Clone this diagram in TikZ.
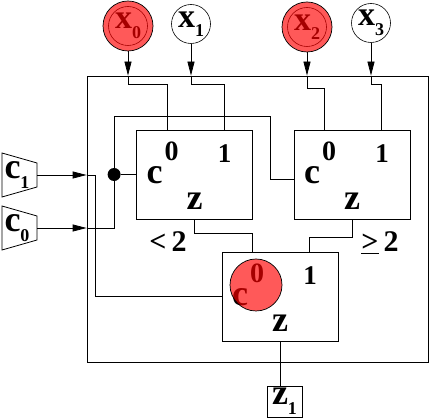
\documentclass[tikz,border=0pt]{standalone}
\usepackage{fontspec}
\setmainfont{Liberation Serif}
\usetikzlibrary{arrows.meta,calc,positioning}

% subscript that sits low, as in the drawing
\newcommand{\lowtag}[1]{\raisebox{-0.28em}{\fontsize{18}{18}\selectfont #1}}

\tikzset{
  wire/.style={line width=0.8pt},
  feed/.style={wire, -{Triangle[length=14pt,width=7pt]}},
  gate/.style={draw, line width=0.8pt, minimum width=116pt, minimum height=89pt, inner sep=0pt},
  var/.style={circle, draw, line width=0.6pt, minimum size=39pt, inner sep=0pt,
    font=\bfseries\fontsize{34}{34}\selectfont},
  hilite/.style={circle, fill=red, fill opacity=0.65, draw=black, line width=0.7pt, inner sep=0pt},
  big/.style={font=\bfseries\fontsize{36}{36}\selectfont, inner sep=0pt},
  mid/.style={font=\bfseries\fontsize{28}{28}\selectfont, inner sep=0pt},
  small/.style={font=\bfseries\fontsize{27}{27}\selectfont, inner sep=0pt},
  cmp/.style={font=\bfseries\fontsize{30}{30}\selectfont, inner sep=0pt},
}

\begin{document}
\begin{tikzpicture}[x=1pt, y=-1pt]
    \useasboundingbox (0,0) rectangle (429,419);

    % Frame and the three selector boxes
    \node[draw, line width=0.8pt, minimum width=341pt, minimum height=286pt] (frame) at (257.5,219) {};
    \node[gate] (b1) at (194.5,174.5) {};
    \node[gate] (b2) at (352,174.5) {};
    \node[gate] (b3) at (280,296.5) {};

    % Box labels and input points
    \foreach \g in {b1,b2,b3} {
        \node[big] (\g-c) at ($(\g)+(-40,1)$) {c};
        \node[mid] (\g-sup) at ($(\g)+(-23,-23)$) {0};
        \node[small] (\g-one) at ($(\g)+(30,-21)$) {1};
        \node[big] (\g-z) at ($(\g)+(0,27)$) {z};
        \coordinate (\g-0) at ($(\g.north west)+(31,0)$);
        \coordinate (\g-1) at ($(\g.north west)+(88,0)$);
    }

    % Inputs on top
    \node[var] (x0) at (128,26) {x\lowtag{0}};
    \node[var] (x1) at (191,24) {x\lowtag{1}};
    \node[var] (x2) at (307,27) {x\lowtag{2}};
    \node[var] (x3) at (371,23) {x\lowtag{3}};
    \node[hilite, minimum size=50pt] (x0mark) at (x0) {};
    \node[hilite, minimum size=50pt] (x2mark) at (x2) {};

    \draw[feed] (x0mark) -- (x0mark |- frame.north);
    \draw[feed] (x1) -- (x1 |- frame.north);
    \draw[feed] (x2mark) -- (x2mark |- frame.north);
    \draw[feed] (x3) -- (x3 |- frame.north);
    \draw[wire] (x0mark |- frame.north) -- ++(0,9) -| (b1-0);
    \draw[wire] (x1 |- frame.north) -- ++(0,9) -| (b1-1);
    \draw[wire] (x2mark |- frame.north) -- ++(0,13) -| (b2-0);
    \draw[wire] (x3 |- frame.north) -- ++(0,9) -| (b2-1);

    % Control inputs on the left
    \foreach \k/\yy in {1/175,0/228} {
        \draw[wire] (2,\yy-22) -- (37,\yy-12) -- (37,\yy+12) -- (2,\yy+22) -- cycle;
        \node[big] (c\k) at (17,\yy) {c\lowtag{\k}};
        \coordinate (c\k-out) at (37,\yy);
    }
    \node[circle, fill, minimum size=13pt, inner sep=0pt] (split) at ($(b1.west)+(-22,0)$) {};
    \coordinate (b2-c) at ($(b2.west)+(0,4.5)$);

    \draw[feed] (c1-out) -- (c1-out -| frame.west);
    \draw[wire] (c1-out -| frame.west) -- ++(9,0) |- (b3.west);
    \draw[feed] (c0-out) -- (c0-out -| frame.west);
    \draw[wire] (c0-out -| frame.west) -| (split);
    \draw[wire] (split) -- (b1.west);
    \draw[wire] (split) -- ++(0,-58) -| ($(b2-c)+(-23,0)$) -- (b2-c);

    % Outputs of the first stage
    \draw[wire] (b1.south) -- ++(0,14) -| (b3-0);
    \draw[wire] (b2.south) -- ++(0,18) -| (b3-1);
    \node[cmp] (lt) at (168,242) {<\,2};
    \node[cmp] (ge) at (380,243) {\underline{>}\,2};

    % Marked control of the last box
    \node[hilite, minimum size=52pt] (b3mark) at ($(b3)+(-24,-11.5)$) {};

    % Result
    \node[draw, line width=0.8pt, minimum width=35pt, minimum height=31pt, big, inner sep=0pt] (z1) at (284.5,401.5) {z\lowtag{1}};
    \draw[wire] (b3.south) -- (b3.south |- z1.north);
\end{tikzpicture}
\end{document}
